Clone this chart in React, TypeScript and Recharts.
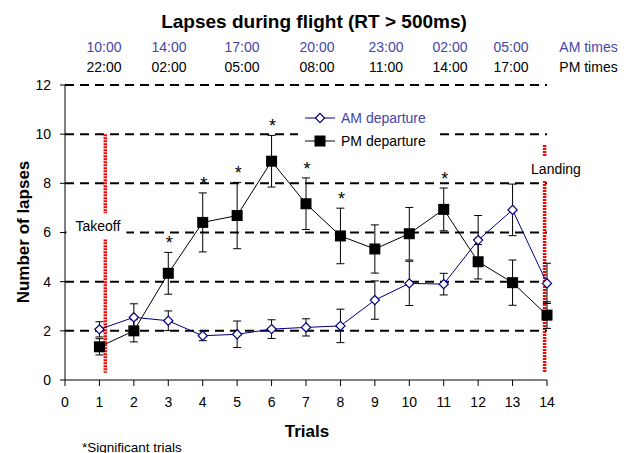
import React from 'react';
import { LineChart, Line, XAxis, YAxis, ErrorBar, ReferenceLine, ReferenceDot } from 'recharts';

const trials = [1, 2, 3, 4, 5, 6, 7, 8, 9, 10, 11, 12, 13, 14];
const amValues = [2.06, 2.55, 2.41, 1.8, 1.86, 2.07, 2.14, 2.2, 3.25, 3.93, 3.9, 5.69, 6.92, 3.93];
const amErrors = [0.31, 0.55, 0.4, 0.2, 0.54, 0.38, 0.35, 0.68, 0.78, 0.9, 0.44, 1.0, 1.05, 0.82];
const pmValues = [1.35, 2.0, 4.34, 6.41, 6.69, 8.9, 7.17, 5.86, 5.33, 5.95, 6.94, 4.81, 3.96, 2.64];
const pmErrors = [0.33, 0.45, 0.85, 1.2, 1.35, 1.05, 1.05, 1.13, 0.98, 1.07, 0.87, 0.7, 0.92, 0.54];
const significantTrials = [3, 4, 5, 6, 7, 8, 11];
const xTicks = [0, 1, 2, 3, 4, 5, 6, 7, 8, 9, 10, 11, 12, 13, 14];
const yTicks = [0, 2, 4, 6, 8, 10, 12];
const gridLevels = [2, 4, 6, 8, 10, 12];
const amTimes = ['10:00', '14:00', '17:00', '20:00', '23:00', '02:00', '05:00'];
const pmTimes = ['22:00', '02:00', '05:00', '08:00', '11:00', '14:00', '17:00'];
const timeColumnX = [104, 169, 242, 317, 386, 450, 511];

const FONT = '"Liberation Sans", Arial, sans-serif';
const BLUE_TEXT = '#4646A8';
const NAVY = '#000080';

const data = trials.map((t, i) => ({
  trial: t,
  am: amValues[i],
  amErr: amErrors[i],
  pm: pmValues[i],
  pmErr: pmErrors[i],
}));

const DiamondDot = (props: any) => {
  const { cx, cy, index } = props;
  if (cx == null || cy == null) return <g key={`am-${index}`} />;
  const h = 4.6;
  return (
    <polygon
      key={`am-${index}`}
      points={`${cx},${cy - h} ${cx + h},${cy} ${cx},${cy + h} ${cx - h},${cy}`}
      fill="#fff"
      stroke={NAVY}
      strokeWidth={1.2}
    />
  );
};

const SquareDot = (props: any) => {
  const { cx, cy, index } = props;
  if (cx == null || cy == null) return <g key={`pm-${index}`} />;
  const h = 5.5;
  return <rect key={`pm-${index}`} x={cx - h} y={cy - h} width={2 * h} height={2 * h} fill="#000" />;
};

const AsteriskLabel = (props: any) => {
  const vb = props.viewBox || {};
  const x = (vb.x || 0) + (vb.width || 0) / 2;
  const y = (vb.y || 0) + (vb.height || 0) / 2;
  return (
    <text x={x + 1} y={y - 3} textAnchor="middle" fontSize={18} fontFamily={FONT} fill="#000">
      *
    </text>
  );
};

const boxedLabel = (text: string, dx0: number, dx1: number, dy0: number, dy1: number, tx: number, ty: number) =>
  (props: any) => {
    const vb = props.viewBox || {};
    const x = (vb.x || 0) + (vb.width || 0) / 2;
    const y = (vb.y || 0) + (vb.height || 0) / 2;
    return (
      <g>
        <rect x={x + dx0} y={y + dy0} width={dx1 - dx0} height={dy1 - dy0} fill="#fff" />
        <text x={x + tx} y={y + ty} textAnchor="middle" fontSize={14} fontFamily={FONT} fill="#000">
          {text}
        </text>
      </g>
    );
  };

const TakeoffLabel = boxedLabel('Takeoff', -33, 27, -13, 13, -1.5, 4.5);
const LandingLabel = boxedLabel('Landing', -19, 40, -15, 10, 9, 3);

export default function App() {
  return (
    <div style={{ position: 'absolute', left: 0, top: 0, width: 628, height: 453, background: '#fff' }}>
      <LineChart
        width={628}
        height={453}
        data={data}
        margin={{ top: 85, right: 81, bottom: 43, left: 5 }}
      >
        <XAxis
          dataKey="trial"
          type="number"
          domain={[0, 14]}
          ticks={xTicks}
          interval={0}
          height={30}
          axisLine={{ stroke: '#000' }}
          tickLine={{ stroke: '#000' }}
          tickSize={6}
          tickMargin={11}
          tick={{ fill: '#000', fontSize: 14, fontFamily: FONT }}
        />
        <YAxis
          type="number"
          domain={[0, 12]}
          ticks={yTicks}
          interval={0}
          width={60}
          axisLine={{ stroke: '#000' }}
          tickLine={{ stroke: '#000' }}
          tickSize={5}
          tickMargin={9}
          tick={{ fill: '#000', fontSize: 14, fontFamily: FONT }}
        />
        {gridLevels.map((v) => (
          <ReferenceLine key={`g-${v}`} y={v} stroke="#000" strokeWidth={2} strokeDasharray="9 6" />
        ))}
        <ReferenceLine
          segment={[{ x: 1.17, y: 10 }, { x: 1.17, y: 0.3 }]}
          stroke="#ff0000"
          strokeWidth={3.5}
          strokeDasharray="2 1"
        />
        <ReferenceLine
          segment={[{ x: 13.93, y: 9.56 }, { x: 13.93, y: 0.3 }]}
          stroke="#ff0000"
          strokeWidth={3.5}
          strokeDasharray="2 1"
        />
        <Line
          dataKey="am"
          stroke={NAVY}
          strokeWidth={1}
          dot={DiamondDot}
          activeDot={false}
          isAnimationActive={false}
        >
          <ErrorBar dataKey="amErr" direction="y" width={4} stroke="#000" strokeWidth={1} />
        </Line>
        <Line
          dataKey="pm"
          stroke="#000"
          strokeWidth={1}
          dot={SquareDot}
          activeDot={false}
          isAnimationActive={false}
        >
          <ErrorBar dataKey="pmErr" direction="y" width={4} stroke="#000" strokeWidth={1} />
        </Line>
        {significantTrials.map((t) => {
          const i = trials.indexOf(t);
          return (
            <ReferenceDot
              key={`s-${t}`}
              x={t}
              y={pmValues[i] + pmErrors[i]}
              r={0}
              fill="none"
              stroke="none"
              label={<AsteriskLabel />}
            />
          );
        })}
        <ReferenceDot x={1} y={6.25} r={0} fill="none" stroke="none" label={<TakeoffLabel />} />
        <ReferenceDot x={14} y={8.5} r={0} fill="none" stroke="none" label={<LandingLabel />} />
      </LineChart>

      <div
        style={{
          position: 'absolute',
          left: 298,
          top: 105,
          width: 139,
          height: 48,
          background: '#fff',
        }}
      >
        <svg width={139} height={48} style={{ display: 'block' }}>
          <line x1={7} y1={13} x2={37} y2={13} stroke={NAVY} strokeWidth={1} />
          <polygon points="22,8.4 26.6,13 22,17.6 17.4,13" fill="#fff" stroke={NAVY} strokeWidth={1.2} />
          <text x={43} y={18} fontSize={14} fontFamily={FONT} fill={BLUE_TEXT}>
            AM departure
          </text>
          <line x1={7} y1={36} x2={37} y2={36} stroke="#000" strokeWidth={1} />
          <rect x={16.5} y={30.5} width={11} height={11} fill="#000" />
          <text x={43} y={41} fontSize={14} fontFamily={FONT} fill="#000">
            PM departure
          </text>
        </svg>
      </div>

      <svg
        width={628}
        height={453}
        style={{ position: 'absolute', left: 0, top: 0, pointerEvents: 'none' }}
      >
        <text x={314} y={28} textAnchor="middle" fontSize={19} fontWeight="bold" fontFamily={FONT} fill="#000">
          Lapses during flight (RT &gt; 500ms)
        </text>
        {amTimes.map((t, i) => (
          <text key={`am-t-${i}`} x={timeColumnX[i]} y={51.5} textAnchor="middle" fontSize={14} fontFamily={FONT} fill={BLUE_TEXT}>
            {t}
          </text>
        ))}
        <text x={588.5} y={51.5} textAnchor="middle" fontSize={14} fontFamily={FONT} fill={BLUE_TEXT}>
          AM times
        </text>
        {pmTimes.map((t, i) => (
          <text key={`pm-t-${i}`} x={timeColumnX[i]} y={71.5} textAnchor="middle" fontSize={14} fontFamily={FONT} fill="#000">
            {t}
          </text>
        ))}
        <text x={588.5} y={71.5} textAnchor="middle" fontSize={14} fontFamily={FONT} fill="#000">
          PM times
        </text>
        <text
          x={29}
          y={232}
          textAnchor="middle"
          fontSize={17}
          fontWeight="bold"
          fontFamily={FONT}
          fill="#000"
          transform="rotate(-90 29 232)"
        >
          Number of lapses
        </text>
        <text x={307} y={437} textAnchor="middle" fontSize={17} fontWeight="bold" fontFamily={FONT} fill="#000">
          Trials
        </text>
        <text x={82} y={451.5} fontSize={13.5} fontFamily={FONT} fill="#000">
          *Significant trials
        </text>
      </svg>
    </div>
  );
}
